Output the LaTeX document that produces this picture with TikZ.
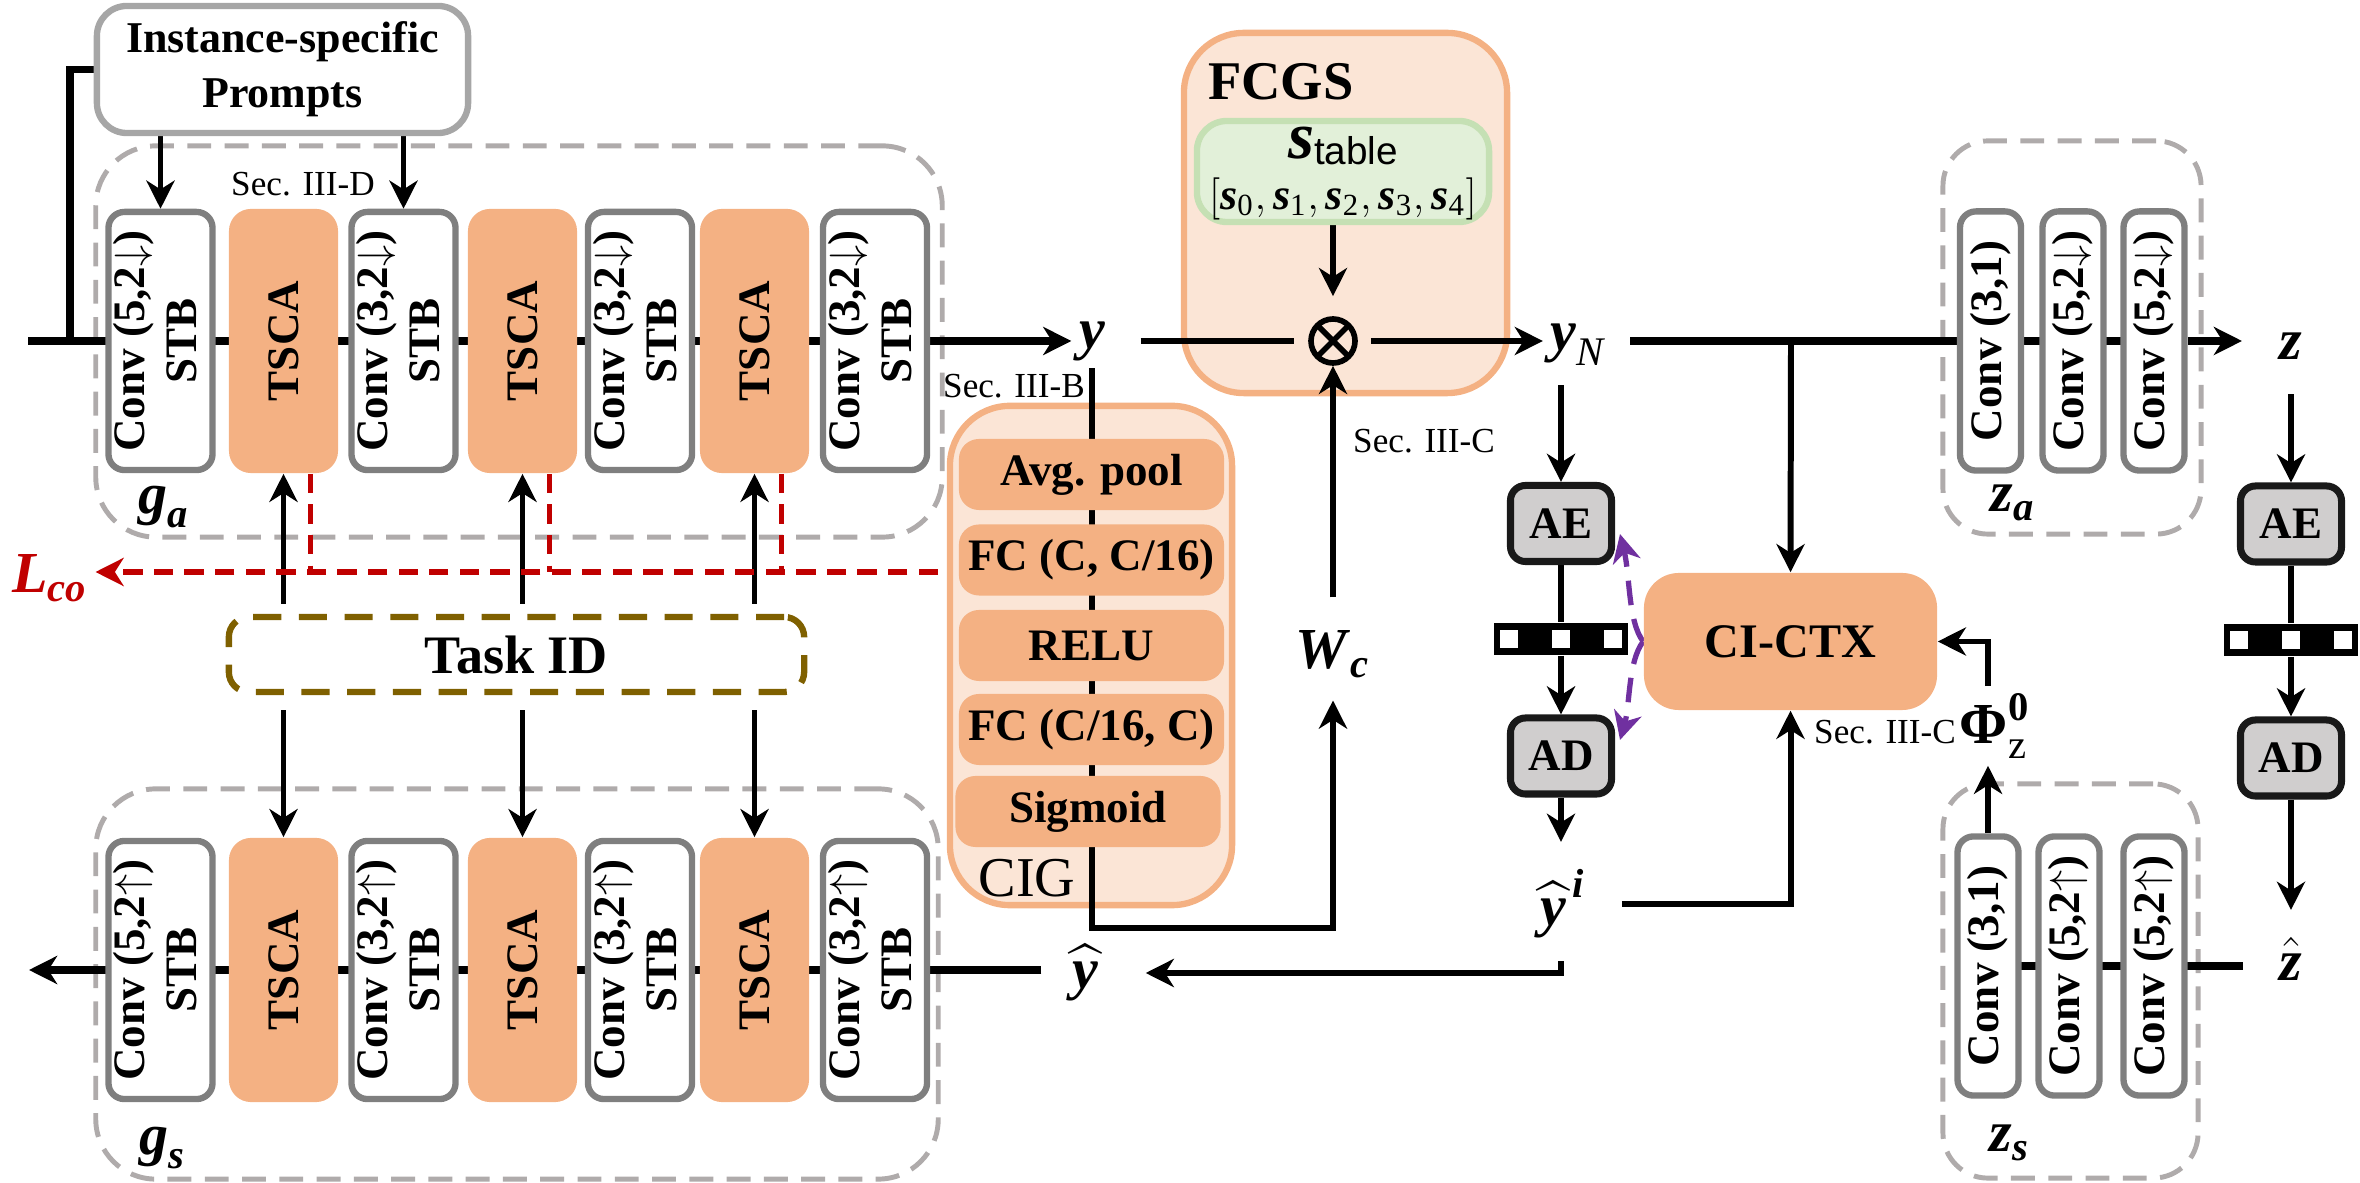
\documentclass[tikz,border=0pt]{standalone}
\usepackage{amsmath}
\usepackage{fontspec}
\setmainfont{Liberation Serif}
\newfontfamily\sansf{Liberation Sans}
\usetikzlibrary{arrows.meta,calc}
\definecolor{orF}{HTML}{F4B183}
\definecolor{peach}{HTML}{FBE5D6}
\definecolor{grnF}{HTML}{E2F0D9}
\definecolor{grnB}{HTML}{C5E0B4}
\definecolor{cgray}{HTML}{7F7F7F}
\definecolor{pgray}{HTML}{A6A6A6}
\definecolor{dgray}{HTML}{AFABAB}
\definecolor{aeF}{HTML}{D0CECE}
\definecolor{redL}{HTML}{C00000}
\definecolor{purp}{HTML}{7030A0}
\definecolor{olive}{HTML}{7F6000}
\pgfdeclarelayer{back}
\pgfdeclarelayer{bg}
\pgfsetlayers{back,bg,main}
\newcommand\bi[1]{\textbf{\textit{#1}}}
\newcommand\rtx[1]{\rotatebox{90}{\begin{tabular}{@{}c@{}}#1\end{tabular}}}
\newcommand\dn{\ensuremath{\downarrow}}
\newcommand\upa{\ensuremath{\uparrow}}
\tikzset{
 >={Stealth[length=8pt,width=8pt,inset=2.5pt]},
 ln/.style={line width=1.7pt, black},
 mainln/.style={line width=2.2pt, black},
 arr/.style={ln, ->},
 convbox/.style={draw=cgray, line width=1.8pt, fill=white, rounded corners=0.16cm, minimum width=1.0cm, minimum height=2.58cm, inner sep=0pt, font=\fontsize{12.8}{14.8}\selectfont\bfseries},
 zconv/.style={convbox, minimum width=0.61cm, minimum height=2.59cm},
 tsca/.style={fill=orF, rounded corners=0.22cm, minimum width=1.09cm, minimum height=2.64cm, inner sep=0pt, font=\fontsize{12.8}{15}\selectfont\bfseries},
 grp/.style={draw=dgray, line width=1.4pt, dash pattern=on 6.8pt off 3.8pt, rounded corners=0.6cm, inner sep=0pt},
 lbl/.style={inner sep=2pt, font=\fontsize{16.5}{18}\selectfont},
 secl/.style={inner sep=0pt, font=\fontsize{10}{12}\selectfont},
 cigitem/.style={fill=orF, rounded corners=0.2cm, minimum width=2.65cm, minimum height=0.71cm, inner sep=0pt, font=\fontsize{12.8}{15}\selectfont\bfseries},
 coder/.style={draw=black!90, line width=2pt, fill=aeF, rounded corners=0.15cm, minimum width=1.01cm, minimum height=0.76cm, inner sep=0pt, font=\fontsize{12.8}{15}\selectfont\bfseries},
 ecbar/.style={fill=black, minimum width=1.34cm, minimum height=0.32cm, inner sep=0pt,
   path picture={\foreach \d in {-0.52,0,0.52}{\fill[white] ([xshift=\d cm]path picture bounding box.center) ++(-0.09cm,-0.09cm) rectangle ++(0.18cm,0.18cm);}}},
 reddash/.style={redL, line width=1.6pt, dash pattern=on 5.5pt off 3.2pt},
 purpdash/.style={purp, line width=1.5pt, dash pattern=on 7pt off 4pt, ->},
 otim/.style={circle, draw, line width=1.6pt, minimum size=0.44cm, inner sep=0pt,
   path picture={\draw[line width=1.6pt] (path picture bounding box.north west) -- (path picture bounding box.south east) (path picture bounding box.north east) -- (path picture bounding box.south west);}},
}
\begin{document}
\begin{tikzpicture}[x=0.01cm,y=-0.01cm]
\useasboundingbox (0,0) rectangle (2360,1183);

% ---------- background groups ----------
\begin{pgfonlayer}{back}
\node[grp, minimum width=8.46cm, minimum height=3.91cm] (gagrp) at (519,341.5) {};
\node[grp, minimum width=8.42cm, minimum height=3.90cm] (gsgrp) at (517,984) {};
\node[grp, minimum width=2.58cm, minimum height=3.93cm, rounded corners=0.45cm] (zagrp) at (2072,337.5) {};
\node[grp, minimum width=2.55cm, minimum height=3.94cm, rounded corners=0.45cm] (zsgrp) at (2070.5,981) {};
\node[draw=orF, line width=1.8pt, fill=peach, rounded corners=0.6cm, minimum width=3.23cm, minimum height=3.6cm] (fcgs) at (1345.5,213) {};
\node[draw=orF, line width=1.8pt, fill=peach, rounded corners=0.6cm, minimum width=2.82cm, minimum height=4.99cm] (cig) at (1091,655.5) {};
\end{pgfonlayer}

% ---------- prompts ----------
\node[draw=pgray, line width=1.8pt, fill=white, rounded corners=0.3cm, minimum width=3.71cm, minimum height=1.27cm, align=center, font=\fontsize{12.5}{15.6}\selectfont\bfseries] (prompts) at (282.5,69.5) {Instance-specific\\Prompts};

% ---------- g_a ----------
\node[convbox] (a1) at (160.5,341) {\rtx{Conv (5,2\dn)\\STB}};
\node[tsca] (t1) at (283.5,341) {\rotatebox{90}{TSCA}};
\node[convbox] (a2) at (403.5,341) {\rtx{Conv (3,2\dn)\\STB}};
\node[tsca] (t2) at (522.5,341) {\rotatebox{90}{TSCA}};
\node[convbox] (a3) at (640,341) {\rtx{Conv (3,2\dn)\\STB}};
\node[tsca] (t3) at (754.5,341) {\rotatebox{90}{TSCA}};
\node[convbox] (a4) at (875,341) {\rtx{Conv (3,2\dn)\\STB}};
\node[lbl] (ga) at (164,507) {$\bi{g}_{\bi{a}}$};
\node[secl] (secD) at (303,184) {Sec. III-D};

% ---------- g_s ----------
\node[convbox] (b1) at (160.5,970) {\rtx{Conv (5,2\upa)\\STB}};
\node[tsca] (u1) at (283.5,970) {\rotatebox{90}{TSCA}};
\node[convbox] (b2) at (403.5,970) {\rtx{Conv (3,2\upa)\\STB}};
\node[tsca] (u2) at (522.5,970) {\rotatebox{90}{TSCA}};
\node[convbox] (b3) at (640,970) {\rtx{Conv (3,2\upa)\\STB}};
\node[tsca] (u3) at (754.5,970) {\rotatebox{90}{TSCA}};
\node[convbox] (b4) at (875,970) {\rtx{Conv (3,2\upa)\\STB}};
\node[lbl] (gs) at (163,1148) {$\bi{g}_{\bi{s}}$};

% ---------- task id and L_co ----------
\node[draw=olive, line width=1.8pt, dash pattern=on 8pt off 5pt, rounded corners=0.2cm, minimum width=5.75cm, minimum height=0.75cm, font=\fontsize{15.4}{18}\selectfont\bfseries] (task) at (516.5,654.5) {Task ID};
\node[lbl, text=redL] (lco) at (50,578) {$\bi{L}_{\bi{co}}$};

% ---------- CIG ----------
\node[cigitem] (avg) at (1091.5,474.5) {Avg. pool};
\node[cigitem] (fc1) at (1091.5,560) {FC (C, C/16)};
\node[cigitem] (relu) at (1091.5,645.5) {RELU};
\node[cigitem] (fc2) at (1091.5,729.5) {FC (C/16, C)};
\node[cigitem] (sig) at (1088,811.5) {Sigmoid};
\node[font=\fontsize{16}{18}\selectfont] (ciglbl) at (1027,878) {CIG};
\node[secl] (secB) at (1014,386) {Sec. III-B};

% ---------- FCGS ----------
\node[font=\fontsize{15.5}{18}\selectfont\bfseries] (fcgslbl) at (1281,82) {FCGS};
\node[draw=grnB, fill=grnF, line width=1.8pt, rounded corners=0.3cm, minimum width=2.92cm, minimum height=1.01cm] (stab) at (1343,171.5) {};
\node[inner sep=0pt] (stabt) at (1343,146) {{\fontsize{19}{20}\selectfont\bi{s}}\raisebox{-0.4ex}{\sansf\fontsize{11}{12}\selectfont table}};
\node[inner sep=0pt, font=\fontsize{12.5}{15}\selectfont] (slist) at (1343,199) {$[\bi{s}_{\textrm{0}},\bi{s}_{\textrm{1}},\bi{s}_{\textrm{2}},\bi{s}_{\textrm{3}},\bi{s}_{\textrm{4}}]$};
\node[otim] (otimes) at (1333,341) {};
\node[secl] (secC1) at (1424,441) {Sec. III-C};

% ---------- labels ----------
\node[lbl] (ylab) at (1092,341) {$\bi{y}$};
\node[lbl] (yN) at (1578,345) {$\bi{y}_{\textit{N}}$};
\node[lbl] (Wc) at (1333,654) {$\bi{W}_{\bi{c}}$};
\node[lbl] (zlab) at (2291,346) {$\bi{z}$};
\node[lbl] (zhat) at (2291,959) {$\hat{\bi{z}}$};
\node[lbl] (yhi) at (1563,904) {$\widehat{\bi{y}}^{\,\bi{i}}$};
\node[lbl] (yhat) at (1085,973) {$\widehat{\bi{y}}$};
\node[lbl] (zal) at (2013,503) {$\bi{z}_{\bi{a}}$};
\node[lbl] (zsl) at (2010,1143) {$\bi{z}_{\bi{s}}$};
\node[lbl] (phi) at (1995,726) {$\textbf{Φ}_{\text{z}}^{\textbf{0}}$};
\node[secl] (secC2) at (1885,732) {Sec. III-C};

% ---------- coders ----------
\node[coder] (aeL) at (1561,523.5) {AE};
\node[ecbar] (barL) at (1561,639) {};
\node[coder] (adL) at (1561,756) {AD};
\node[coder] (aeR) at (2291,524) {AE};
\node[ecbar] (barR) at (2291,640) {};
\node[coder] (adR) at (2291,758) {AD};
\node[fill=orF, rounded corners=0.35cm, minimum width=2.93cm, minimum height=1.37cm, font=\fontsize{13.7}{16}\selectfont\bfseries] (cictx) at (1790.5,641.5) {CI-CTX};

% ---------- hyperprior convs ----------
\node[zconv] (za1) at (1990.5,341) {\rotatebox{90}{Conv (3,1)}};
\node[zconv] (za2) at (2073,341) {\rotatebox{90}{Conv (5,2\dn)}};
\node[zconv] (za3) at (2154,341) {\rotatebox{90}{Conv (5,2\dn)}};
\node[zconv] (zs1) at (1988,966) {\rotatebox{90}{Conv (3,1)}};
\node[zconv] (zs2) at (2069,966) {\rotatebox{90}{Conv (5,2\upa)}};
\node[zconv] (zs3) at (2154,966) {\rotatebox{90}{Conv (5,2\upa)}};

% ---------- coordinates ----------
\coordinate (inL) at (28,341);
\coordinate (jL) at (70,341);
\coordinate (outL) at (29,970);
\coordinate (lcoR) at (938,572);
\coordinate (cigturn) at (1091,928);
\coordinate (jN) at (1791,341);
\coordinate (pU) at (1620,534);
\coordinate (pD) at (1620,740);

% ---------- connectors ----------
\begin{pgfonlayer}{bg}
\draw[mainln] (inL) -- (a4.center);
\draw[mainln] (prompts.west) -| (jL);
\draw[arr] (prompts.south -| a1) -- (a1.north);
\draw[arr] (prompts.south -| a2) -- (a2.north);
\draw[mainln,->] (a4.east) -- (a4.east -| ylab.west);
\draw[ln, shorten <=0.28cm, shorten >=0.14cm] (ylab.east |- otimes) -- (otimes.west);
\draw[arr, shorten <=0.13cm] (otimes.east) -- (otimes.east -| yN.west);
\draw[mainln, shorten <=0.17cm] (otimes -| yN.east) -- (za3.center);
\draw[mainln, ->, shorten >=0.3cm] (za3.east) -- (za3.east -| zlab.west);
\draw[arr] (jN) -- (cictx.north);
\draw[arr, shorten <=0.12cm] (yN.south -| aeL) -- (aeL.north);
\draw[ln] (aeL.south) -- (barL.north);
\draw[arr] (barL.south) -- (adL.north);
\draw[arr, shorten >=0.2cm] (adL.south) -- (adL.south |- yhi.north);
\draw[arr, shorten <=0.28cm] (yhi.east) -| (cictx.south);
\draw[arr, shorten <=0.15cm, shorten >=0.4cm] (yhi.south -| adL) |- (yhat.east);
\draw[mainln, ->, shorten <=0.23cm] (yhat.west |- outL) -- (outL);
\draw[arr, shorten <=0.27cm] (zlab.south) -- (aeR.north);
\draw[ln] (aeR.south) -- (barR.north);
\draw[arr] (barR.south) -- (adR.north);
\draw[arr, shorten >=0.2cm] (adR.south) -- (zhat.north);
\draw[mainln, shorten <=0.29cm] (zhat.west |- zs1) -- (zs1.center);
\draw[arr] (zs1.north) -- (zs1.north |- phi.south);
\draw[arr] (phi.north -| zs1) |- (cictx.east);
\draw[arr, shorten <=0.25cm] (Wc.north) -- (otimes.south);
\draw[arr, shorten >=0.2cm] (stab.south -| otimes) -- (otimes.north);
\draw[arr, shorten >=0.15cm] (ylab.south) -- (ylab.south |- cigturn) -| (Wc.south);
\foreach \q in {t1,t2,t3} \draw[arr, shorten <=0.1cm] (task.north -| \q) -- (\q.south);
\foreach \q in {u1,u2,u3} \draw[arr, shorten <=0.15cm] (task.south -| \q) -- (\q.north);
\foreach \q in {t1,t2,t3} {
  \coordinate (\q r) at ($(\q.south)+(27,0)$);
  \draw[reddash] (\q r) -- (\q r |- lcoR);
}
\draw[reddash, ->] (lcoR) -- (lcoR -| lco.east);
\draw[purpdash] (cictx.west) .. controls (1628,622) and (1630,575) .. (pU);
\draw[purpdash] (cictx.west) .. controls (1628,661) and (1630,705) .. (pD);
\end{pgfonlayer}
\end{tikzpicture}
\end{document}
